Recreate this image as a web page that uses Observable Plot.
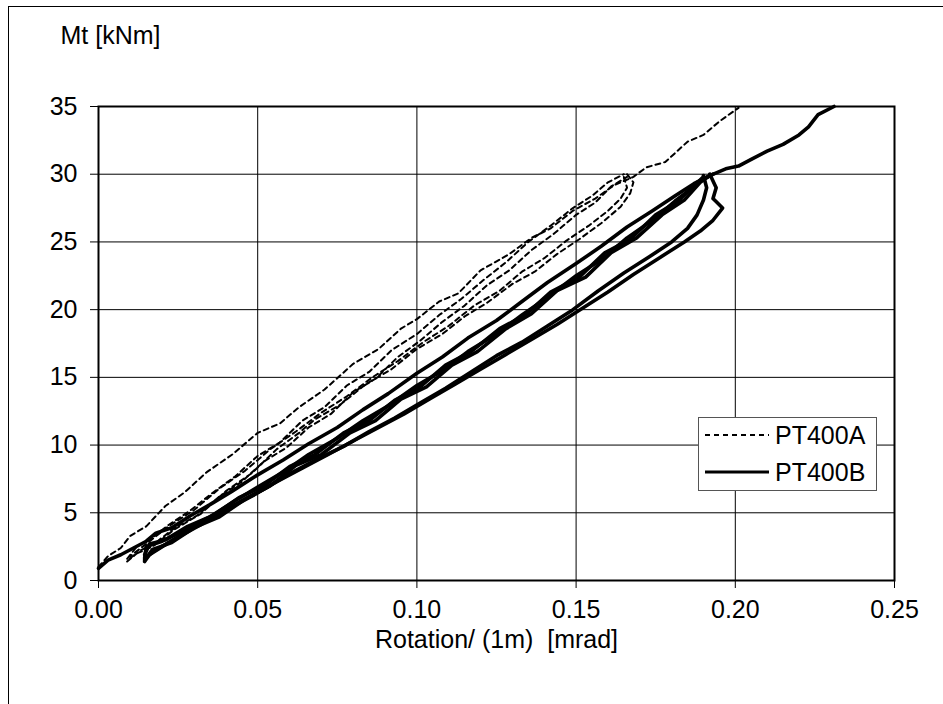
<!DOCTYPE html>
<html><head><meta charset="utf-8">
<script src="https://cdn.jsdelivr.net/npm/d3@7"></script>
<script src="https://cdn.jsdelivr.net/npm/@observablehq/plot@0.6"></script>
<style>
body{margin:0;background:#fff;}
#wrap{position:relative;width:943px;height:704px;overflow:hidden;font-family:"Liberation Sans",Arial,sans-serif;background:#fff;}
#frame{position:absolute;left:8px;top:6px;width:1000px;height:1000px;border-left:1.5px solid #000;border-top:1.5px solid #000;}
#chart{position:absolute;left:0;top:0;}
#legend{position:absolute;left:698px;top:417px;width:179px;height:74px;border:1px solid #555;background:#fff;box-sizing:border-box;}
#legend svg{position:absolute;left:-1px;top:-1px;}
</style>
</head>
<body>
<div id="wrap"><div id="frame"></div><div id="chart"></div><div id="legend"></div></div>
<script>
// ---- data (rotation [mrad], Mt [kNm]) ----
const xTicks = [0, 0.05, 0.10, 0.15, 0.20, 0.25];
const yTicks = [0, 5, 10, 15, 20, 25, 30, 35];
const seriesNames = ["PT400A", "PT400B"];
const xTitle = "Rotation/ (1m)\u00a0 [mrad]";
const yTitle = "Mt [kNm]";

// PT400A (dashed)
const aLoadMono = [[0,1.0],[0.003,1.8],[0.007,2.4],[0.010,3.3],[0.015,4.0],[0.021,5.5],[0.027,6.5],[0.034,8.0],[0.042,9.3],[0.050,10.9],[0.057,11.6],[0.063,12.8],[0.071,14.1],[0.080,16.0],[0.088,17.1],[0.095,18.6],[0.100,19.3],[0.107,20.6],[0.113,21.2],[0.120,22.9],[0.129,24.1],[0.136,25.3],[0.142,26.0],[0.149,27.3],[0.156,28.2],[0.162,29.2],[0.168,29.8],[0.172,30.5],[0.178,30.9],[0.185,32.4],[0.190,32.9],[0.195,33.9],[0.201,34.9]];
const aLoad1 = [[0.009,1.6],[0.012,2.5],[0.016,3.0],[0.022,4.1],[0.029,5.2],[0.036,6.5],[0.043,7.7],[0.050,9.2],[0.057,10.2],[0.064,11.8],[0.071,12.8],[0.078,14.4],[0.085,15.4],[0.092,17.0],[0.100,18.2],[0.107,19.6],[0.114,20.8],[0.121,22.2],[0.128,23.5],[0.135,25.0],[0.142,26.2],[0.149,27.5],[0.155,28.4],[0.160,29.4],[0.165,30.0]];
const aLoad2 = [[0.009,1.4],[0.013,2.2],[0.018,2.8],[0.024,3.9],[0.031,4.8],[0.038,6.2],[0.045,7.3],[0.052,8.8],[0.059,9.8],[0.066,11.3],[0.073,12.3],[0.080,13.9],[0.087,14.9],[0.094,16.5],[0.101,17.7],[0.108,19.1],[0.115,20.3],[0.122,21.8],[0.129,22.9],[0.136,24.4],[0.143,25.6],[0.150,27.0],[0.156,27.9],[0.161,29.1],[0.166,29.8]];
const aUnload1 = [[0.166,30.0],[0.168,29.4],[0.167,28.6],[0.164,27.6],[0.158,26.4],[0.151,25.2],[0.144,24.1],[0.137,22.8],[0.130,21.9],[0.122,20.5],[0.115,19.5],[0.108,18.2],[0.100,17.1],[0.092,15.6],[0.084,14.5],[0.076,13.0],[0.068,11.9],[0.063,10.9],[0.056,9.7],[0.048,7.9],[0.040,6.6],[0.032,4.9],[0.024,3.8],[0.017,2.5],[0.012,2.0],[0.009,1.5]];
const aUnload2 = [[0.165,29.8],[0.166,29.0],[0.164,28.2],[0.160,27.3],[0.154,26.2],[0.147,25.1],[0.140,23.8],[0.133,22.8],[0.126,21.4],[0.118,20.3],[0.110,18.8],[0.102,17.6],[0.094,16.2],[0.086,15.0],[0.078,13.6],[0.070,12.4],[0.062,11.0],[0.054,9.7],[0.046,8.1],[0.038,6.8],[0.030,5.2],[0.022,4.0],[0.015,2.7],[0.010,1.8]];

// PT400B (solid)
const bLoadMono = [[0,0.9],[0.003,1.5],[0.007,1.9],[0.011,2.4],[0.015,2.9],[0.018,3.5],[0.023,3.9],[0.029,4.8],[0.035,5.6],[0.042,6.6],[0.050,7.8],[0.058,8.9],[0.066,10.1],[0.075,11.3],[0.083,12.6],[0.091,13.8],[0.100,15.3],[0.108,16.5],[0.116,17.9],[0.125,19.2],[0.133,20.6],[0.141,22.0],[0.150,23.4],[0.158,24.7],[0.166,26.1],[0.174,27.3],[0.181,28.4],[0.187,29.3],[0.192,29.9],[0.197,30.4],[0.201,30.6],[0.205,31.1],[0.210,31.7],[0.215,32.2],[0.220,32.9],[0.223,33.5],[0.226,34.4],[0.231,35.0]];
const bLoad1 = [[0.0145,1.7],[0.015,2.5],[0.020,2.9],[0.027,3.7],[0.035,4.7],[0.043,5.9],[0.050,6.9],[0.058,8.0],[0.066,9.3],[0.075,10.5],[0.083,11.8],[0.091,12.9],[0.100,14.4],[0.108,15.5],[0.116,16.9],[0.125,18.2],[0.133,19.6],[0.141,20.9],[0.150,22.5],[0.158,23.7],[0.166,25.3],[0.174,26.6],[0.181,28.0],[0.186,28.9],[0.190,29.8]];
const bLoad2 = [[0.0145,1.9],[0.016,2.7],[0.021,3.0],[0.028,4.0],[0.036,4.8],[0.044,6.1],[0.052,7.0],[0.060,8.4],[0.068,9.3],[0.077,10.9],[0.085,11.8],[0.093,13.3],[0.101,14.3],[0.109,15.9],[0.117,16.9],[0.126,18.6],[0.134,19.6],[0.142,21.3],[0.151,22.4],[0.159,24.2],[0.167,25.2],[0.175,27.0],[0.182,28.0],[0.188,29.4],[0.193,30.0]];
const bLoad3 = [[0.0145,1.5],[0.017,2.3],[0.023,2.8],[0.030,3.9],[0.038,4.7],[0.046,6.0],[0.054,7.0],[0.062,8.5],[0.070,9.3],[0.079,10.9],[0.087,11.8],[0.095,13.4],[0.103,14.3],[0.111,15.9],[0.119,16.9],[0.128,18.6],[0.136,19.7],[0.144,21.4],[0.153,22.4],[0.161,24.2],[0.169,25.3],[0.177,27.0],[0.184,28.1],[0.189,29.4],[0.192,29.9]];
const bUnload1 = [[0.192,30.0],[0.194,29.0],[0.193,28.2],[0.196,27.5],[0.193,26.6],[0.189,25.8],[0.184,25.0],[0.176,23.8],[0.168,22.6],[0.160,21.3],[0.152,20.1],[0.144,18.9],[0.136,17.8],[0.128,16.7],[0.120,15.6],[0.112,14.5],[0.104,13.4],[0.096,12.3],[0.088,11.3],[0.080,10.3],[0.072,9.3],[0.064,8.3],[0.056,7.3],[0.048,6.2],[0.040,5.2],[0.032,4.1],[0.025,3.2],[0.020,2.5],[0.016,1.9],[0.0145,1.4]];
const bUnload2 = [[0.190,29.9],[0.191,29.0],[0.190,28.1],[0.188,27.0],[0.185,26.0],[0.180,25.0],[0.173,23.9],[0.165,22.7],[0.157,21.4],[0.149,20.0],[0.141,18.8],[0.133,17.6],[0.125,16.6],[0.117,15.4],[0.109,14.2],[0.101,13.1],[0.093,12.0],[0.085,11.0],[0.077,9.9],[0.069,9.0],[0.061,8.0],[0.053,6.9],[0.045,5.9],[0.037,4.8],[0.029,3.8],[0.022,2.8],[0.017,2.1],[0.0145,1.6]];

// ---- build rows ----
function rows(segs, series) {
  const out = [];
  segs.forEach((s, k) => s.forEach(([x, y]) => out.push({x, y, seg: series + k, series})));
  return out;
}
const rowsA = rows([aLoad1, aLoad2, aUnload1, aUnload2, aLoadMono], seriesNames[0]);
const rowsB = rows([bLoad1, bLoad2, bLoad3, bUnload1, bUnload2, bLoadMono], seriesNames[1]);

const chart = Plot.plot({
  width: 943, height: 704,
  marginLeft: 98, marginRight: 49, marginTop: 106, marginBottom: 124,
  style: {fontFamily: "Liberation Sans, Arial, sans-serif", fontSize: "25px", background: "transparent", color: "#000", overflow: "visible"},
  x: {domain: [0, 0.25]},
  y: {domain: [0, 35]},
  marks: [
    Plot.gridX(xTicks, {stroke: "#000", strokeOpacity: 1, strokeWidth: 1}),
    Plot.gridY(yTicks, {stroke: "#000", strokeOpacity: 1, strokeWidth: 1}),
    Plot.axisX(xTicks, {tickSize: 8, tickPadding: 12, tickFormat: d3.format(".2f"), label: null}),
    Plot.axisY(yTicks, {tickSize: 8, tickPadding: 13, tickFormat: d3.format("d"), label: null}),
    Plot.line(rowsA, {x: "x", y: "y", z: "seg", stroke: "#000", strokeWidth: 2, strokeDasharray: "5,4"}),
    Plot.line(rowsB, {x: "x", y: "y", z: "seg", stroke: "#000", strokeWidth: 3.6, strokeLinejoin: "round"}),
    Plot.frame({stroke: "#000", strokeWidth: 2}),
    Plot.text([xTitle], {frameAnchor: "bottom", dy: 67, lineAnchor: "bottom", text: d => d}),
    Plot.text([yTitle], {frameAnchor: "top-left", dx: -38, dy: -63, textAnchor: "start", lineAnchor: "bottom", text: d => d})
  ]
});
document.getElementById("chart").appendChild(chart);

// legend
const lg = d3.select("#legend").append("svg").attr("width", 179).attr("height", 74)
  .style("font-family", "Liberation Sans, Arial, sans-serif").style("font-size", "25px");
const styles = [{dash: "5,4", w: 2}, {dash: null, w: 3.2}];
seriesNames.forEach((name, i) => {
  const y = i === 0 ? 18 : 55;
  lg.append("line").attr("x1", 7).attr("x2", 71).attr("y1", y).attr("y2", y)
    .attr("stroke", "#000").attr("stroke-width", styles[i].w).attr("stroke-dasharray", styles[i].dash);
  lg.append("text").attr("x", 77).attr("y", y + 9).text(name);
});
</script>
</body></html>
